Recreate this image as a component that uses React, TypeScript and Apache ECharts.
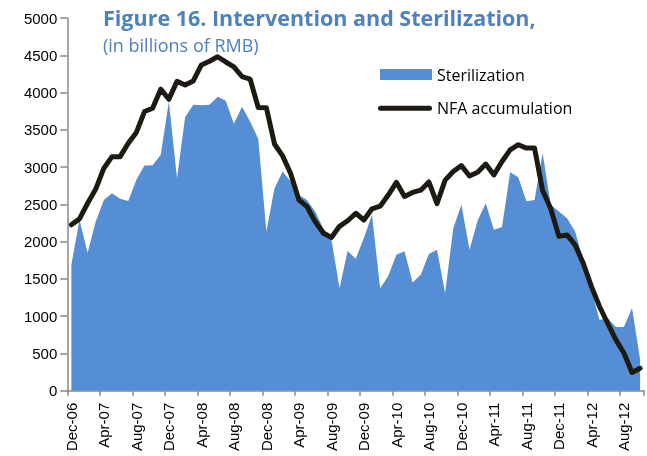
import React, { useEffect, useRef } from 'react';
import * as echarts from 'echarts';

const months = [
  'Dec-06',
  'Jan-07', 'Feb-07', 'Mar-07', 'Apr-07', 'May-07', 'Jun-07', 'Jul-07', 'Aug-07', 'Sep-07', 'Oct-07', 'Nov-07', 'Dec-07',
  'Jan-08', 'Feb-08', 'Mar-08', 'Apr-08', 'May-08', 'Jun-08', 'Jul-08', 'Aug-08', 'Sep-08', 'Oct-08', 'Nov-08', 'Dec-08',
  'Jan-09', 'Feb-09', 'Mar-09', 'Apr-09', 'May-09', 'Jun-09', 'Jul-09', 'Aug-09', 'Sep-09', 'Oct-09', 'Nov-09', 'Dec-09',
  'Jan-10', 'Feb-10', 'Mar-10', 'Apr-10', 'May-10', 'Jun-10', 'Jul-10', 'Aug-10', 'Sep-10', 'Oct-10', 'Nov-10', 'Dec-10',
  'Jan-11', 'Feb-11', 'Mar-11', 'Apr-11', 'May-11', 'Jun-11', 'Jul-11', 'Aug-11', 'Sep-11', 'Oct-11', 'Nov-11', 'Dec-11',
  'Jan-12', 'Feb-12', 'Mar-12', 'Apr-12', 'May-12', 'Jun-12', 'Jul-12', 'Aug-12', 'Sep-12', 'Oct-12',
];

const sterilization = [
  1690,
  2290, 1850, 2270, 2560, 2650, 2575, 2545, 2830, 3020, 3025, 3165, 3880,
  2850, 3670, 3835, 3830, 3835, 3945, 3890, 3580, 3810, 3610, 3380, 2135,
  2715, 2940, 2805, 2625, 2560, 2405, 2180, 2035, 1375, 1875, 1770, 2050,
  2360, 1375, 1540, 1825, 1870, 1450, 1555, 1835, 1890, 1310, 2180, 2495,
  1890, 2285, 2515, 2160, 2195, 2930, 2865, 2540, 2560, 3185, 2495, 2405,
  2315, 2135, 1755, 1355, 950, 975, 855, 855, 1110, 420,
];

const nfaAccumulation = [
  2225,
  2305, 2515, 2705, 2985, 3140, 3140, 3320, 3465, 3745, 3790, 4045, 3910,
  4150, 4100, 4155, 4370, 4420, 4480, 4410, 4345, 4215, 4180, 3800, 3795,
  3310, 3150, 2910, 2560, 2470, 2270, 2115, 2055, 2205, 2280, 2380, 2290,
  2440, 2475, 2625, 2795, 2605, 2660, 2690, 2800, 2510, 2825, 2940, 3020,
  2880, 2930, 3040, 2895, 3075, 3230, 3300, 3255, 3255, 2685, 2440, 2070,
  2090, 1955, 1710, 1400, 1130, 905, 685, 505, 245, 300,
];

const yTicks = { min: 0, max: 5000, interval: 500 };

const AREA = '#558ED5';
const LINE = '#1D1B11';
const TITLE = '#4F81BD';
const AXIS = '#888888';

export default function App() {
  const ref = useRef<HTMLDivElement>(null);

  useEffect(() => {
    const chart = echarts.init(ref.current!, null, { renderer: 'svg' });
    chart.setOption({
      animation: false,
      title: [
        {
          text: 'Figure 16. Intervention and Sterilization,',
          left: 103,
          top: 6.7,
          padding: 0,
          textStyle: {
            fontFamily: 'Open Sans',
            fontWeight: 'bold',
            fontSize: 21.5,
            lineHeight: 22,
            color: TITLE,
          },
        },
        {
          text: '(in billions of RMB)',
          left: 103,
          top: 35.7,
          padding: 0,
          textStyle: {
            fontFamily: 'Open Sans',
            fontWeight: 'normal',
            fontSize: 18,
            lineHeight: 18,
            color: TITLE,
          },
        },
      ],
      legend: [
        {
          data: [{ name: 'Sterilization', icon: 'rect' }],
          left: 380,
          top: 66.5,
          padding: 0,
          itemWidth: 52,
          itemHeight: 11,
          selectedMode: false,
          itemStyle: { borderWidth: 0 },
          textStyle: { fontFamily: 'Open Sans', fontSize: 16, lineHeight: 16, color: '#000' },
        },
        {
          data: [
            {
              name: 'NFA accumulation',
              icon: 'path://M2.5,0H51.5A2.5,2.5,0,0,1,51.5,5H2.5A2.5,2.5,0,0,1,2.5,0Z',
            },
          ],
          left: 378,
          top: 100.3,
          padding: 0,
          itemWidth: 54,
          itemHeight: 5,
          selectedMode: false,
          itemStyle: { borderWidth: 0 },
          textStyle: { fontFamily: 'Open Sans', fontSize: 16, lineHeight: 16, color: '#000' },
        },
      ],
      grid: {
        left: 67.3,
        right: 2.8,
        top: 18,
        bottom: 65.3,
        containLabel: false,
        outerBoundsMode: 'none',
      },
      xAxis: {
        type: 'category',
        data: months,
        boundaryGap: true,
        axisLine: { show: true, lineStyle: { color: AXIS, width: 1.5 } },
        axisTick: { show: true, interval: 3, length: 5, lineStyle: { color: AXIS, width: 1.5 } },
        axisLabel: {
          interval: 3,
          rotate: 90,
          margin: 12,
          fontFamily: 'Liberation Sans',
          fontSize: 15,
          color: '#000',
        },
        splitLine: { show: false },
      },
      yAxis: {
        type: 'value',
        min: yTicks.min,
        max: yTicks.max,
        interval: yTicks.interval,
        axisLine: { show: true, lineStyle: { color: AXIS, width: 1.5 } },
        axisTick: { show: true, length: 7, lineStyle: { color: AXIS, width: 1.5 } },
        axisLabel: {
          margin: 10,
          fontFamily: 'Liberation Sans',
          fontSize: 15,
          color: '#000',
          formatter: (v: number) => String(v),
        },
        splitLine: { show: false },
      },
      series: [
        {
          name: 'Sterilization',
          type: 'line',
          data: sterilization,
          symbol: 'none',
          silent: true,
          z: 1,
          itemStyle: { color: AREA },
          lineStyle: { width: 0, color: AREA },
          areaStyle: { color: AREA, opacity: 1 },
        },
        {
          name: 'NFA accumulation',
          type: 'line',
          data: nfaAccumulation,
          symbol: 'none',
          silent: true,
          z: 2,
          itemStyle: { color: LINE },
          lineStyle: { width: 5, color: LINE, cap: 'round', join: 'round' },
        },
      ],
    });
    return () => chart.dispose();
  }, []);

  return (
    <div
      ref={ref}
      style={{ position: 'fixed', left: 0, top: 0, width: 647, height: 456 }}
    />
  );
}
